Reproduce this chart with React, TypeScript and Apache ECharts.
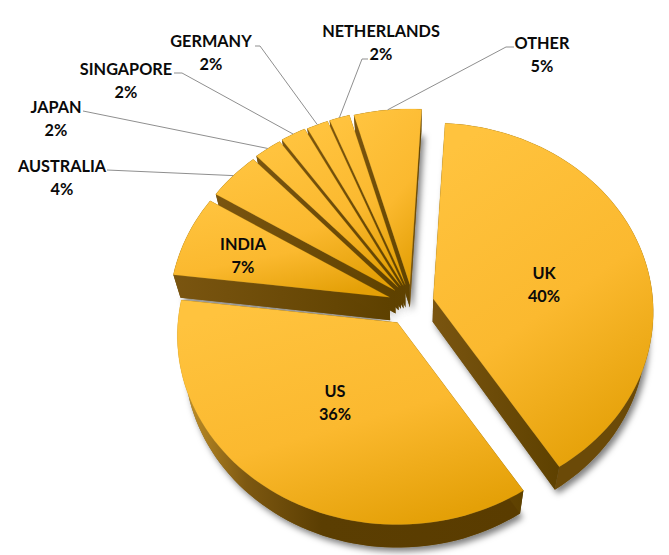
import React, { useEffect, useRef } from "react";
import * as echarts from "echarts";

const categories = ["UK", "US", "INDIA", "AUSTRALIA", "JAPAN", "SINGAPORE", "GERMANY", "NETHERLANDS", "OTHER"];
// Estimated shares; printed labels are rounded.
const shares = [40, 36, 7, 4.2, 2.2, 2, 1.7, 1.6, 5.3];
const explosion = [23, 20, 25, 22, 22, 22, 21, 21, 20];
const nudgeX = [-1, -4, 1, 0, 0, 0, 0, 0, 0];
const nudgeY = [0, 1, 1, 0, 0, 0, 0, 0, 0];
const paintOrder = [1, 0, 8, 7, 6, 5, 4, 3, 2];
const labelX = [544, 335, 243, 62, 56, 126, 211, 381, 542];
const labelY = [284, 402, 255, 177, 118, 80, 52, 42, 54];
// Elbow of leader line: [label end x, y, elbow x, y]
const leaders: Record<number, number[]> = {
  3: [107, 170, 107, 170],
  4: [83, 111, 88, 112],
  5: [174, 73, 182, 73],
  6: [255, 46, 260, 46],
  7: [368, 59, 362, 59],
  8: [514, 47, 506, 47],
};

const CX = 412, CY = 304.5, RX = 219.5, RY = 188, PERSP = 0.07, START = 3.3;
const DEPTH = 23, SHRINK = 0.97;
const rad = (d: number) => (d * Math.PI) / 180;
const total = shares.reduce((a, b) => a + b, 0);
const startAngles: number[] = [];
shares.reduce((acc, s, i) => {
  startAngles[i] = acc;
  return acc + (s / total) * 360;
}, START);

const sweep = (i: number) => (shares[i] / total) * 360;
const midAngle = (i: number) => startAngles[i] + sweep(i) / 2;
const apex = (i: number) => {
  const m = rad(midAngle(i));
  return [CX + nudgeX[i] + explosion[i] * Math.sin(m), CY + nudgeY[i] - explosion[i] * Math.cos(m)];
};
const rim = (i: number, deg: number) => {
  const a = apex(i), t = rad(deg), w = 1 + PERSP * Math.cos(t);
  return [a[0] + (RX * Math.sin(t)) / w, a[1] - (RY * Math.cos(t)) / w];
};
const lower = (p: number[]) => [CX + (p[0] - CX) * SHRINK, p[1] + DEPTH];
const arc = (i: number) => {
  const pts: number[][] = [];
  const n = Math.max(6, Math.ceil(sweep(i) / 2));
  for (let k = 0; k <= n; k++) pts.push(rim(i, startAngles[i] + (sweep(i) * k) / n));
  return pts;
};

const topFill = {
  type: "linear", x: 0.25, y: 0, x2: 0.7, y2: 1,
  colorStops: [
    { offset: 0, color: "#FFC33E" },
    { offset: 0.55, color: "#FBB92F" },
    { offset: 1, color: "#E4A007" },
  ],
};
const rimFill = {
  type: "linear", x: 178, y: 0, x2: 520, y2: 0, global: true,
  colorStops: [
    { offset: 0, color: "#C8962A" },
    { offset: 0.2, color: "#7D5811" },
    { offset: 0.42, color: "#5B3E02" },
    { offset: 1, color: "#5A3C00" },
  ],
};
const edgeFill = {
  type: "linear", x: 0, y: 0, x2: 1, y2: 0,
  colorStops: [
    { offset: 0, color: "#7A5510" },
    { offset: 1, color: "#5E4100" },
  ],
};

const poly = (points: number[][], style: any) => ({ type: "polygon", shape: { points }, style, silent: true });

function renderShadow(_: any, api: any) {
  const i = api.value(0);
  const a = apex(i);
  const pts = [a, ...arc(i)].map(lower);
  return poly(pts, {
    fill: "#7a6a48",
    shadowBlur: 6,
    shadowColor: "rgba(0,0,0,0.5)",
    shadowOffsetX: 3,
    shadowOffsetY: 4,
  });
}

function renderSlice(_: any, api: any) {
  const i = api.value(0);
  const a = apex(i);
  const rimPts = arc(i);
  const first = rimPts[0], last = rimPts[rimPts.length - 1];
  return {
    type: "group",
    children: [
      poly([...rimPts, ...rimPts.map(lower).reverse()], { fill: i === 1 ? rimFill : "#6B4A08" }),
      poly([a, first, lower(first), lower(a)], { fill: edgeFill }),
      poly([a, last, lower(last), lower(a)], { fill: edgeFill }),
      poly([a, ...rimPts], { fill: topFill, stroke: "rgba(228,160,7,0.35)", lineWidth: 0.5 }),
    ],
  };
}

function renderLabel(_: any, api: any) {
  const i = api.value(0);
  const children: any[] = [];
  const l = leaders[i];
  if (l) {
    const end = rim(i, midAngle(i));
    children.push({
      type: "polyline",
      shape: { points: [[l[0], l[1]], [l[2], l[3]], end] },
      style: { fill: "none", stroke: "#8f8f8f", lineWidth: 1 },
      silent: true,
    });
  }
  children.push({
    type: "text",
    x: labelX[i],
    y: labelY[i],
    silent: true,
    style: {
      text: `${categories[i]}\n${Math.round(shares[i])}%`,
      font: "bold 16.3px Lato, 'Noto Sans', sans-serif",
      fill: "#0a0a0a",
      align: "center",
      verticalAlign: "middle",
      lineHeight: 23,
    },
  });
  return { type: "group", children };
}

export default function App() {
  const ref = useRef<HTMLDivElement>(null);
  useEffect(() => {
    document.body.style.margin = "0";
    const chart = echarts.init(ref.current!, undefined, { renderer: "svg" });
    const common = { type: "custom", coordinateSystem: "none", silent: true, clip: false };
    chart.setOption({
      animation: false,
      backgroundColor: "#ffffff",
      series: [
        { ...common, z: 1, renderItem: renderShadow, data: paintOrder.map((i) => [i]) },
        { ...common, z: 2, renderItem: renderSlice, data: paintOrder.map((i) => [i]) },
        { ...common, z: 3, renderItem: renderLabel, data: categories.map((_, i) => [i]) },
      ],
    });
    return () => chart.dispose();
  }, []);
  return <div ref={ref} style={{ width: 669, height: 555 }} />;
}
